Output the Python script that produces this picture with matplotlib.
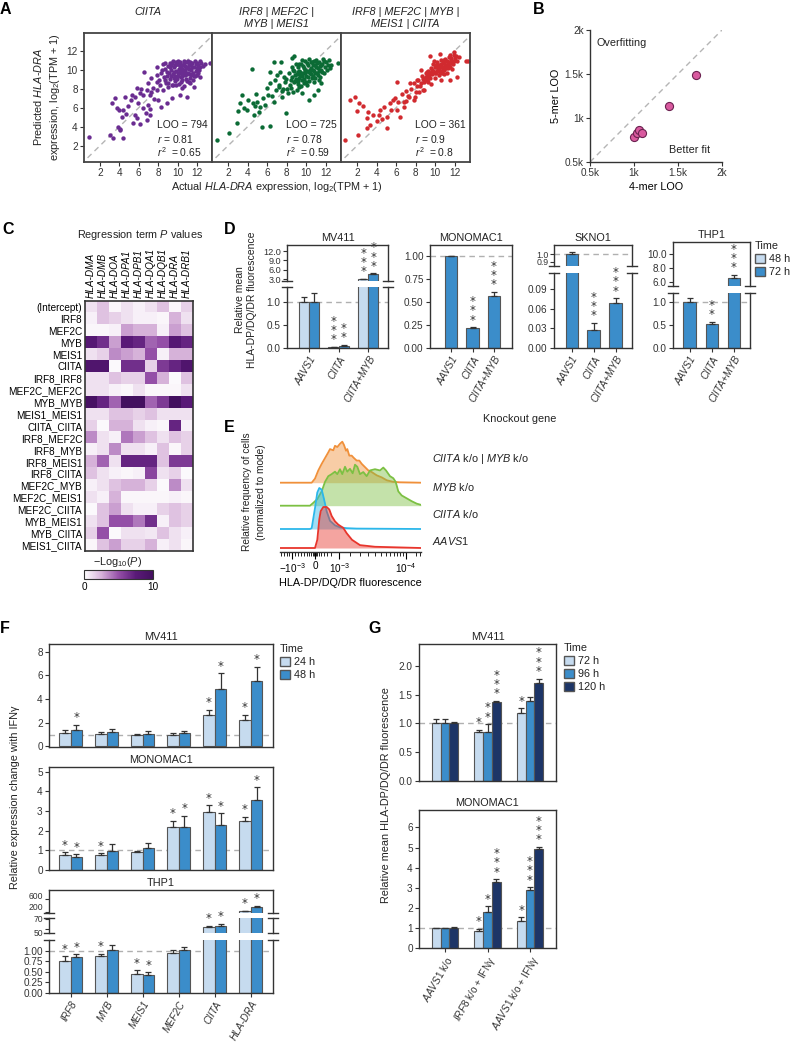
import numpy as np
import matplotlib
matplotlib.use('Agg')
import matplotlib.pyplot as plt
from matplotlib.colors import LinearSegmentedColormap
from matplotlib.lines import Line2D
from matplotlib.patches import Patch
from matplotlib.ticker import FormatStrFormatter

plt.rcParams['font.family'] = ['Liberation Sans', 'DejaVu Sans']
plt.rcParams['mathtext.fontset'] = 'custom'
plt.rcParams['mathtext.rm'] = 'Liberation Sans'
plt.rcParams['mathtext.it'] = 'Liberation Sans:italic'
plt.rcParams['mathtext.bf'] = 'Liberation Sans:bold'
plt.rcParams['font.size'] = 7.5
plt.rcParams['axes.edgecolor'] = '#333333'
plt.rcParams['axes.linewidth'] = 1.0
plt.rcParams['text.color'] = '#222222'

# ---------------- data: panel A (actual vs predicted HLA-DRA) ----------------
a_ciita_pts = [
    (0.83, 2.95), (3.0, 3.1), (3.35, 2.84), (4.4, 2.84), (4.1, 3.8), (3.9, 4.0), (4.1, 3.65),
    (3.5, 7.0), (3.25, 6.5), (3.8, 6.0), (3.95, 5.8), (4.4, 5.75), (4.9, 6.2), (4.7, 5.35),
    (4.3, 5.05), (5.6, 5.2), (5.8, 4.9), (5.4, 4.35), (6.1, 4.3), (6.8, 4.7), (6.7, 5.4),
    (7.2, 5.2), (7.2, 5.9), (6.4, 6.0), (5.15, 6.8), (5.65, 7.15), (5.95, 6.45), (4.55, 7.1),
    (5.25, 7.3), (6.1, 7.5), (6.8, 7.85), (7.15, 7.35), (7.5, 8.1), (7.0, 8.55), (5.8, 8.1),
    (6.5, 9.8), (7.3, 9.1), (7.85, 7.85), (8.0, 6.8), (8.25, 6.1), (8.9, 6.45), (9.4, 7.0),
    (10.3, 7.3), (11.0, 7.15), (10.45, 8.1), (11.3, 8.55), (11.65, 8.2), (12.35, 9.25),
    (12.0, 9.4), (13.3, 10.65), (12.85, 10.55), (12.35, 10.9), (12.0, 10.65), (8.2, 8.4),
    (8.7, 8.9), (8.45, 7.85), (9.05, 8.15), (9.55, 8.4), (7.85, 8.75), (7.3, 7.7), (6.45, 7.35),
    (7.85, 9.45), (8.35, 10.0), (7.85, 10.3), (8.7, 10.65), (6.2, 8.0), (6.9, 6.3), (7.6, 6.9),
    (8.6, 9.2), (8.9, 9.8), (9.0, 10.4), (9.2, 9.0), (9.3, 10.0), (9.4, 10.7), (9.5, 9.5),
    (9.6, 10.3), (9.7, 8.8), (9.8, 9.9), (9.9, 10.6), (10.0, 9.3), (10.1, 10.1), (10.2, 10.8),
    (10.3, 9.6), (10.4, 10.4), (10.5, 8.9), (10.6, 9.9), (10.7, 10.7), (10.8, 9.4), (10.9, 10.2),
    (11.0, 10.8), (11.1, 9.7), (11.2, 10.5), (11.3, 9.1), (11.4, 10.0), (11.5, 10.7), (11.6, 9.6),
    (11.7, 10.3), (11.8, 10.9), (11.9, 9.9), (12.1, 10.5), (12.2, 10.0), (9.1, 9.6), (9.5, 10.9),
    (9.9, 9.0), (10.2, 9.9), (10.6, 10.5), (10.9, 9.0), (11.3, 10.8), (8.7, 10.1), (8.3, 9.6),
    (8.1, 8.9), (8.8, 8.6), (9.4, 8.4), (10.1, 8.5), (10.7, 8.3), (11.2, 8.7), (11.6, 8.9),
    (9.7, 10.5), (10.4, 9.2), (10.0, 10.9), (11.0, 9.5), (8.5, 10.6), (9.2, 10.3), (10.8, 10.0),
    (11.4, 9.4), (12.0, 10.2), (12.4, 10.7), (12.6, 10.4), (9.3, 9.3), (10.5, 10.1), (11.1, 10.3),
    (8.9, 9.3), (9.2, 10.7), (9.6, 9.1), (9.8, 10.8), (10.0, 9.7), (10.3, 10.6), (10.5, 9.3),
    (10.7, 10.9), (10.9, 9.7), (11.1, 10.9), (11.3, 9.5), (11.5, 10.3), (11.7, 9.3), (11.9, 10.6),
    (12.1, 9.7), (12.3, 10.3), (9.0, 8.6), (9.8, 8.4), (10.4, 8.7), (11.0, 8.8), (11.8, 9.3),
    (9.3, 10.5), (9.6, 9.8), (10.2, 10.4), (10.8, 10.4), (11.4, 10.6), (10.6, 9.6), (10.0, 10.6),
    (11.2, 10.1), (9.7, 9.3),
]
a_tf4_pts = [
    (0.82, 2.6), (2.14, 3.3), (2.9, 4.35), (3.0, 5.6), (3.9, 5.75), (4.6, 5.2), (5.3, 6.1),
    (5.6, 7.0), (4.4, 10.1), (5.5, 4.0), (6.25, 4.07), (4.75, 6.2), (4.05, 6.8), (3.2, 6.45),
    (3.45, 7.3), (4.9, 7.45), (5.95, 8.05), (6.3, 8.55), (6.1, 7.3), (6.7, 6.6), (6.9, 7.85),
    (7.5, 7.15), (7.95, 5.4), (7.7, 9.25), (7.0, 9.4), (6.25, 9.8), (6.65, 10.85), (7.45, 10.85),
    (8.55, 10.3), (8.7, 8.75), (9.25, 8.15), (8.4, 8.05), (9.6, 7.5), (10.3, 6.8), (10.8, 7.35),
    (11.15, 7.85), (11.5, 8.55), (12.4, 10.15), (13.25, 10.65), (12.55, 10.5), (8.55, 11.2),
    (8.7, 11.4), (5.0, 6.6), (5.8, 6.3), (6.5, 7.2), (7.2, 8.2), (7.6, 8.0), (8.1, 7.5), (4.5, 6.5),
    (3.6, 6.0), (5.2, 5.5), (6.8, 8.9), (7.3, 9.8), (7.9, 9.0),
    (8.3, 8.4), (8.5, 9.2), (8.7, 9.9), (8.8, 8.8), (9.0, 9.5), (9.1, 10.3), (9.2, 8.5), (9.3, 9.1),
    (9.4, 9.8), (9.5, 10.6), (9.6, 8.9), (9.7, 9.6), (9.8, 10.2), (9.9, 10.9), (10.0, 9.3),
    (10.1, 9.9), (10.2, 10.5), (10.3, 8.8), (10.4, 9.6), (10.5, 10.2), (10.6, 10.8), (10.7, 9.3),
    (10.8, 9.9), (10.9, 10.5), (11.0, 11.0), (11.1, 9.6), (11.2, 10.2), (11.3, 10.8), (11.4, 9.2),
    (11.5, 10.0), (11.6, 10.6), (11.7, 11.1), (11.9, 10.3), (12.0, 10.8), (12.2, 10.5), (8.0, 8.0),
    (7.8, 8.7), (8.6, 7.6), (9.0, 7.9), (9.5, 8.3), (10.1, 8.4), (10.8, 8.7), (11.3, 8.9), (7.5, 7.8),
    (7.2, 8.4), (8.9, 10.6), (9.6, 11.0), (10.3, 11.1), (10.7, 10.0), (11.1, 10.7), (9.9, 9.6),
    (10.5, 9.5), (9.3, 9.9), (10.9, 9.1), (11.8, 9.7), (12.3, 11.0), (8.2, 9.7), (9.8, 8.6),
    (8.4, 8.9), (8.8, 9.4), (9.1, 8.8), (9.3, 10.6), (9.6, 9.3), (9.9, 10.0), (10.0, 8.7),
    (10.2, 9.2), (10.4, 10.0), (10.6, 9.1), (10.7, 10.5), (10.9, 9.6), (11.0, 10.3), (11.2, 9.4),
    (11.4, 10.4), (11.6, 9.8), (11.8, 10.9), (12.1, 10.0), (8.6, 10.0), (9.4, 9.4), (9.8, 9.0),
    (10.3, 9.8), (10.8, 10.9), (11.5, 10.5), (9.2, 9.8), (10.5, 10.8), (11.3, 9.9), (9.7, 10.4),
    (8.9, 9.0), (10.1, 10.7),
]
a_tf5_pts = [
    (0.8, 2.6), (2.1, 3.1), (2.97, 3.83), (3.3, 4.2), (3.65, 5.2), (4.35, 5.75), (5.03, 5.05),
    (5.37, 6.45), (5.9, 7.0), (6.06, 8.75), (4.7, 6.1), (4.0, 4.55), (5.03, 3.83), (5.7, 6.8),
    (6.06, 5.75), (6.4, 5.05), (6.75, 6.1), (7.26, 7.15), (7.77, 6.8), (7.43, 8.55), (8.1, 8.9),
    (8.8, 7.85), (9.15, 8.9), (9.5, 9.6), (10.2, 10.3), (10.9, 11.0), (11.55, 11.55), (11.9, 11.9),
    (12.25, 9.2), (11.5, 8.9), (13.1, 10.95), (13.3, 10.95), (10.5, 11.7), (9.5, 11.4), (8.5, 10.0),
    (3.0, 4.9), (4.2, 5.2), (4.5, 4.8), (5.5, 5.8), (6.2, 6.6), (6.6, 7.4), (7.0, 6.7), (1.3, 6.8),
    (1.8, 7.1), (2.2, 6.5), (2.6, 6.2), (2.0, 5.6), (3.1, 5.5),
    (7.5, 8.0), (7.8, 8.6), (8.0, 7.7), (8.2, 8.9), (8.4, 8.3), (8.6, 9.3), (8.8, 8.7), (9.0, 9.6),
    (9.1, 8.9), (9.3, 9.9), (9.4, 9.2), (9.6, 10.2), (9.7, 9.5), (9.8, 10.6), (9.9, 9.8),
    (10.0, 10.3), (10.1, 9.6), (10.2, 10.8), (10.3, 10.0), (10.4, 10.5), (10.5, 9.8), (10.6, 11.0),
    (10.7, 10.3), (10.8, 10.7), (10.9, 10.0), (11.0, 11.1), (11.1, 10.5), (11.2, 10.9), (11.3, 10.2),
    (11.4, 11.3), (11.5, 10.7), (11.6, 11.0), (11.8, 10.6), (12.0, 11.2), (12.2, 10.9), (9.2, 9.3),
    (9.5, 9.7), (10.0, 9.1), (10.4, 9.4), (10.9, 9.5), (8.7, 7.9), (8.3, 7.6), (7.2, 7.2), (7.0, 7.8),
    (6.8, 6.6), (9.6, 8.5), (11.2, 9.7), (11.7, 10.1), (10.6, 8.9), (7.9, 7.1), (10.7, 9.7),
    (11.9, 11.5), (12.4, 11.3), (9.9, 10.9),
    (8.1, 8.3), (8.5, 8.6), (8.9, 9.1), (9.2, 9.8), (9.5, 9.1), (9.8, 9.9), (10.0, 9.6),
    (10.3, 10.3), (10.5, 10.4), (10.7, 9.9), (10.9, 10.7), (11.1, 10.2), (11.3, 10.8), (11.5, 10.3),
    (11.7, 10.8), (11.9, 10.9), (12.1, 11.4), (9.4, 9.5), (9.7, 10.0), (10.2, 9.9), (10.6, 10.6),
    (11.0, 10.4), (11.4, 10.5), (8.7, 9.0), (9.0, 9.2), (10.8, 10.1), (11.6, 11.2), (10.1, 10.5),
    (9.3, 8.7), (10.4, 10.1),
]
a_titles = ['CIITA', 'IRF8 | MEF2C |\nMYB | MEIS1', 'IRF8 | MEF2C | MYB |\nMEIS1 | CIITA']
a_loo = [794, 725, 361]
a_r = ['0.81', '0.78', '0.9']
a_r2 = ['0.65', '0.59', '0.8']

# ---------------- panel B ----------------
b_4mer = [1000, 1030, 1060, 1090, 1400, 1700]
b_5mer = [780, 830, 860, 830, 1140, 1490]

# ---------------- panel C ----------------
c_genes = ['HLA-DMA', 'HLA-DMB', 'HLA-DOA', 'HLA-DPA1', 'HLA-DPB1', 'HLA-DQA1', 'HLA-DQB1', 'HLA-DRA', 'HLA-DRB1']
c_terms = ['(Intercept)', 'IRF8', 'MEF2C', 'MYB', 'MEIS1', 'CIITA', 'IRF8_IRF8', 'MEF2C_MEF2C',
           'MYB_MYB', 'MEIS1_MEIS1', 'CIITA_CIITA', 'IRF8_MEF2C', 'IRF8_MYB', 'IRF8_MEIS1',
           'IRF8_CIITA', 'MEF2C_MYB', 'MEF2C_MEIS1', 'MEF2C_CIITA', 'MYB_MEIS1', 'MYB_CIITA', 'MEIS1_CIITA']
c_logp = [
    [1.0, 2.0, 0.3, 1.0, 0.5, 1.0, 2.0, 0.3, 1.5],
    [0.5, 2.0, 1.5, 1.0, 0.5, 0.5, 0.3, 2.5, 1.0],
    [0.3, 0.3, 0.5, 3.0, 2.5, 2.5, 0.5, 3.0, 2.0],
    [8.0, 6.5, 3.0, 7.5, 7.0, 4.5, 5.0, 8.0, 7.0],
    [1.0, 1.5, 3.5, 3.0, 2.5, 5.0, 0.5, 2.5, 2.5],
    [8.5, 8.5, 0.2, 6.5, 6.5, 1.5, 6.0, 7.0, 8.5],
    [1.0, 1.0, 2.0, 1.5, 1.5, 5.0, 2.5, 0.2, 2.0],
    [1.0, 1.0, 0.5, 0.3, 1.0, 0.3, 0.3, 0.3, 1.0],
    [9.5, 7.0, 4.5, 10.0, 10.0, 4.5, 6.0, 10.0, 7.5],
    [1.0, 1.0, 2.0, 2.0, 1.5, 2.0, 1.0, 1.0, 1.0],
    [1.5, 0.2, 2.5, 2.5, 1.0, 0.5, 0.3, 7.0, 0.5],
    [3.5, 1.0, 0.5, 4.0, 3.0, 2.0, 1.0, 2.0, 1.5],
    [0.5, 1.0, 3.5, 1.0, 1.0, 0.5, 2.0, 0.3, 1.5],
    [2.5, 4.5, 1.0, 7.0, 7.0, 7.0, 2.0, 6.0, 6.0],
    [2.0, 1.0, 0.5, 0.3, 0.5, 5.5, 1.0, 1.5, 0.2],
    [0.5, 1.0, 2.0, 2.5, 2.5, 1.5, 0.2, 3.5, 1.0],
    [1.0, 0.5, 2.5, 0.3, 0.3, 0.3, 0.3, 0.5, 0.3],
    [0.2, 2.0, 3.0, 1.0, 0.5, 0.5, 1.5, 2.0, 1.5],
    [1.0, 2.0, 5.0, 5.0, 4.0, 6.5, 0.5, 2.0, 1.5],
    [1.5, 5.0, 0.2, 1.0, 1.0, 0.8, 2.0, 1.0, 0.5],
    [0.3, 2.0, 3.0, 1.5, 1.5, 2.5, 0.5, 1.0, 0.3],
]

# ---------------- panel D ----------------
d_genes = ['AAVS1', 'CIITA', 'CIITA+MYB']
d_mv411_48 = [1.0, 0.02, 3.2]
d_mv411_48_err = [0.12, 0.01, 0.06]
d_mv411_48_sig = ['', '***', '***']
d_mv411_72 = [1.0, 0.05, 4.6]
d_mv411_72_err = [0.2, 0.02, 0.3]
d_mv411_72_sig = ['', '**', '***']
d_mono_72 = [1.0, 0.22, 0.56]
d_mono_72_err = [0.005, 0.005, 0.05]
d_mono_72_sig = ['', '***', '***']
d_skno_72 = [1.0, 0.028, 0.068]
d_skno_72_err = [0.02, 0.01, 0.008]
d_skno_72_sig = ['', '***', '***']
d_thp_72 = [1.0, 0.52, 6.55]
d_thp_72_err = [0.08, 0.05, 0.5]
d_thp_72_sig = ['', '**', '***']

# ---------------- panel E (histograms, normalized to mode) ----------------
e_chan_dko = [0, 31.7, 35, 38.3, 41.7, 45, 48.3, 50, 53.3, 55, 57.3, 60, 62.3, 64, 66, 67.3, 69.3,
              71.7, 74, 76.7, 79.3, 81.7, 85, 88.3, 91.7, 96.7, 101.7, 106.7, 113.3, 120, 141]
e_freq_dko = [0, 0, 0.10, 0.30, 0.46, 0.60, 0.74, 0.82, 0.79, 0.90, 0.87, 0.95, 1.0, 0.92, 0.78,
              0.82, 0.66, 0.66, 0.60, 0.54, 0.54, 0.46, 0.38, 0.30, 0.26, 0.18, 0.13, 0.06, 0.02, 0.01, 0]
e_chan_myb = [0, 30, 33.3, 37.3, 41.7, 45, 48.3, 51.7, 55, 57.3, 60, 62.3, 65, 67.3, 70, 72.7, 75,
              77.3, 80, 83.3, 86.7, 90, 95, 100, 103.3, 106, 110, 113.3, 115.7, 118.3, 121.7, 126.7,
              131.7, 136.7, 141]
e_freq_myb = [0, 0, 0.07, 0.16, 0.35, 0.58, 0.72, 0.77, 0.83, 0.77, 0.89, 0.77, 0.95, 0.83, 0.90,
              0.79, 1.0, 0.95, 0.77, 0.82, 0.72, 0.86, 0.89, 0.86, 0.93, 0.86, 0.72, 0.67, 0.58, 0.35,
              0.25, 0.18, 0.11, 0.05, 0.02]
e_chan_ciita = [0, 30, 31.7, 35, 37.3, 39.3, 41.7, 44, 46.7, 50, 55, 60, 66.7, 76.7, 141]
e_freq_ciita = [0, 0, 0.02, 0.51, 0.89, 1.0, 0.96, 0.73, 0.43, 0.2, 0.09, 0.04, 0.02, 0.01, 0]
e_chan_aavs1 = [0, 35, 37.3, 39.3, 40.7, 43.3, 46.7, 49.3, 51.7, 55, 58.3, 63.3, 66.7, 72, 80, 95, 141]
e_freq_aavs1 = [0, 0, 0.2, 0.7, 0.9, 1.0, 1.0, 0.94, 0.78, 0.65, 0.57, 0.49, 0.36, 0.2, 0.07, 0.03, 0]
e_labels = [r'$\mathit{CIITA}$ k/o | $\mathit{MYB}$ k/o', r'$\mathit{MYB}$ k/o',
            r'$\mathit{CIITA}$ k/o', r'$\mathit{AAVS1}$']

# ---------------- panel F ----------------
f_genes = ['IRF8', 'MYB', 'MEIS1', 'MEF2C', 'CIITA', 'HLA-DRA']
f_mv411_24 = [1.12, 1.07, 0.96, 0.96, 2.64, 2.25]
f_mv411_24_err = [0.23, 0.17, 0.11, 0.14, 0.42, 0.42]
f_mv411_24_sig = ['', '', '', '', '*', '*']
f_mv411_48 = [1.40, 1.18, 1.07, 1.12, 4.89, 5.56]
f_mv411_48_err = [0.43, 0.31, 0.19, 0.14, 1.29, 1.18]
f_mv411_48_sig = ['*', '', '', '', '*', '*']
f_mono_24 = [0.78, 0.75, 0.90, 2.20, 2.93, 2.47]
f_mono_24_err = [0.12, 0.10, 0.08, 0.29, 0.36, 0.24]
f_mono_24_sig = ['*', '*', '', '*', '*', '*']
f_mono_48 = [0.66, 0.98, 1.14, 2.20, 2.31, 3.54]
f_mono_48_err = [0.14, 0.34, 0.22, 0.55, 0.57, 0.66]
f_mono_48_sig = ['*', '', '', '*', '*', '*']
f_thp_24 = [0.76, 0.87, 0.46, 0.94, 55, 230]
f_thp_24_err = [0.11, 0.06, 0.08, 0.08, 2, 8]
f_thp_24_sig = ['*', '*', '*', '', '*', '*']
f_thp_48 = [0.86, 1.02, 0.42, 1.02, 56, 370]
f_thp_48_err = [0.06, 0.11, 0.07, 0.08, 5, 15]
f_thp_48_sig = ['*', '', '*', '', '*', '*']

# ---------------- panel G ----------------
g_groups = [r'$\mathit{AAVS1}$ k/o', r'$\mathit{IRF8}$ k/o + IFNγ', r'$\mathit{AAVS1}$ k/o + IFNγ']
g_mv411_72 = [1.0, 0.855, 1.18]
g_mv411_72_err = [0.07, 0.03, 0.08]
g_mv411_72_sig = ['', '*', '*']
g_mv411_96 = [1.0, 0.855, 1.39]
g_mv411_96_err = [0.07, 0.13, 0.07]
g_mv411_96_sig = ['', '**', '']
g_mv411_120 = [1.0, 1.37, 1.70]
g_mv411_120_err = [0.03, 0.02, 0.08]
g_mv411_120_sig = ['', '***', '***']
g_mono_72 = [1.0, 0.85, 1.35]
g_mono_72_err = [0.01, 0.12, 0.17]
g_mono_72_sig = ['', '*', '*']
g_mono_96 = [1.0, 1.78, 2.88]
g_mono_96_err = [0.01, 0.30, 0.14]
g_mono_96_sig = ['', '*', '***']
g_mono_120 = [1.02, 3.30, 4.92]
g_mono_120_err = [0.02, 0.12, 0.10]
g_mono_120_sig = ['', '***', '***']

LIGHT, MID, DARK = '#c6dbef', '#3b8dca', '#1d3567'
EDGE = '#555555'

W, H = 793, 1043
fig = plt.figure(figsize=(W / 100, H / 100), dpi=100)


def box(x0, y0, x1, y1):
    return fig.add_axes([x0 / W, 1 - y1 / H, (x1 - x0) / W, (y1 - y0) / H])


def ftext(x, y, s, **kw):
    fig.text(x / W, 1 - y / H, s, **kw)


def ticks(ax):
    ax.tick_params(direction='out', length=3, width=0.8, colors='#333333', labelsize=7.2, pad=1.5)


def bars(axs, xpos, vals, errs, color, width):
    for ax in axs:
        ax.bar(xpos, vals, width, color=color, edgecolor=EDGE, linewidth=0.8, zorder=2)
        ax.errorbar(xpos, vals, yerr=[np.zeros(len(vals)), errs], fmt='none', ecolor='#333333',
                    elinewidth=0.9, capsize=2.2, capthick=0.9, zorder=3)


def stars(axs, xpos, vals, errs, marks, stack=True):
    # significance marks; stacked vertically (one star per line) like the original
    for x, v, e, m in zip(xpos, vals, errs, marks):
        if not m:
            continue
        t = v + e
        s = '\n'.join(m) if stack else m
        for ax in axs:
            lo, hi = ax.get_ylim()
            if lo <= t <= hi:
                ax.annotate(s, (x, t), xytext=(0, 0.5), textcoords='offset points', ha='center',
                            va='bottom', fontsize=8.5, family='DejaVu Sans', linespacing=0.62,
                            annotation_clip=False, zorder=5, color='#333333')
                break


def broken(axs):
    for i, ax in enumerate(axs):
        if i > 0:
            ax.spines['top'].set_visible(False)
        if i < len(axs) - 1:
            ax.spines['bottom'].set_visible(False)
            ax.tick_params(axis='x', bottom=False, labelbottom=False)
    for i in range(len(axs) - 1):
        for ax, top in ((axs[i], False), (axs[i + 1], True)):
            bb = ax.get_position()
            y = bb.y1 if top else bb.y0
            for xx in (bb.x0, bb.x1):
                fig.add_artist(Line2D([xx - 5 / W, xx + 5 / W], [y, y], color='#333333', lw=1.0))


def dash1(ax):
    ax.axhline(1, ls=(0, (4, 3)), color='#b0b0b0', lw=1.0, zorder=1)


def letter(x, y, s):
    ftext(x, y, s, fontsize=11.5, fontweight='bold', va='top', ha='left', color='black')


# ================= A =================
a_boxes = [(84, 33, 212, 162), (212, 33, 341, 162), (341, 33, 470, 162)]
a_cols = ['#6a2c91', '#0b6b35', '#d12a2f']
for i, (pts, bx) in enumerate(zip([a_ciita_pts, a_tf4_pts, a_tf5_pts], a_boxes)):
    ax = box(*bx)
    p = np.array(pts)
    ax.plot([0, 14], [0, 14], ls=(0, (4, 3)), color='#b5b5b5', lw=1.0, zorder=1)
    ax.scatter(p[:, 0], p[:, 1], s=10, color=a_cols[i], lw=0, zorder=2)
    ax.set_xlim(0.35, 13.55)
    ax.set_ylim(0.28, 13.86)
    ax.set_xticks([2, 4, 6, 8, 10, 12])
    ax.set_yticks([2, 4, 6, 8, 10, 12])
    for sp in ax.spines.values():
        sp.set_linewidth(1.3)
        sp.set_color('#444444')
    ticks(ax)
    if i > 0:
        ax.tick_params(axis='y', left=False, labelleft=False)
    ax.text(0.57, 0.26, f'LOO = {a_loo[i]}', transform=ax.transAxes, fontsize=7.4)
    ax.text(0.57, 0.15, f'$r$ = {a_r[i]}', transform=ax.transAxes, fontsize=7.4)
    ax.text(0.57, 0.04, f'$r^2$  = {a_r2[i]}', transform=ax.transAxes, fontsize=7.4)
    ftext((bx[0] + bx[2]) / 2, 7, a_titles[i], ha='center', va='top', style='italic',
          fontsize=7.8, linespacing=1.3)
ftext(277, 187, r'Actual $\mathit{HLA}$-$\mathit{DRA}$ expression, log$_2$(TPM + 1)', ha='center',
      va='center', fontsize=7.8)
ftext(47, 97, 'Predicted $\\mathit{HLA}$-$\\mathit{DRA}$\nexpression, log$_2$(TPM + 1)', ha='center',
      va='center', rotation=90, fontsize=7.8, linespacing=1.3)
letter(0, 2, 'A')

# ================= B =================
ax = box(590, 30, 722, 162)
ax.plot([500, 2000], [500, 2000], ls=(0, (4, 3)), color='#b5b5b5', lw=1.0, zorder=1)
ax.scatter(b_4mer, b_5mer, s=34, color='#d95a9f', edgecolor='#6b2250', lw=0.8, zorder=3)
ax.set_xlim(500, 2000)
ax.set_ylim(500, 2000)
ax.set_xticks([500, 1000, 1500, 2000])
ax.set_xticklabels(['0.5k', '1k', '1.5k', '2k'])
ax.set_yticks([500, 1000, 1500, 2000])
ax.set_yticklabels(['0.5k', '1k', '1.5k', '2k'])
ax.spines['top'].set_visible(False)
ax.spines['right'].set_visible(False)
ticks(ax)
ax.text(0.05, 0.88, 'Overfitting', transform=ax.transAxes, fontsize=7.8)
ax.text(0.6, 0.07, 'Better fit', transform=ax.transAxes, fontsize=7.8)
ax.set_xlabel('4-mer LOO', fontsize=7.8, labelpad=3)
ax.set_ylabel('5-mer LOO', fontsize=7.8, labelpad=3)
letter(533, 2, 'B')

# ================= C =================
cmap = LinearSegmentedColormap.from_list('pv', ['#ffffff', '#d7b3da', '#9550a8', '#5a1a78', '#43105f'])
ax = box(85, 301, 193, 551)
im = ax.imshow(np.array(c_logp), cmap=cmap, vmin=0, vmax=10, aspect='auto', interpolation='nearest')
ax.set_yticks(range(len(c_terms)))
ax.set_yticklabels(c_terms, fontsize=7.2)
ax.set_xticks(range(len(c_genes)))
ax.set_xticklabels(c_genes, rotation=90, style='italic', fontsize=7.2)
ax.xaxis.tick_top()
ax.tick_params(length=0, pad=2)
for sp in ax.spines.values():
    sp.set_linewidth(1.2)
ftext(140, 235, r'Regression term $P$ values', ha='center', va='center', fontsize=7.8)
cax = box(84, 570, 153, 579)
cb = fig.colorbar(im, cax=cax, orientation='horizontal', ticks=[0, 10])
cb.outline.set_linewidth(0.8)
cax.tick_params(length=0, labelsize=7.2, pad=2)
ftext(118, 562, r'$-$Log$_{10}$($P$)', ha='center', va='center', fontsize=7.8)
letter(2, 222, 'C')

# ================= D =================
def dpanel(bounds, xlim, title):
    axs = []
    for (y0, y1, yl) in bounds['segs']:
        a = box(bounds['x0'], y0, bounds['x1'], y1)
        a.set_ylim(*yl)
        a.set_xlim(*xlim)
        ticks(a)
        axs.append(a)
    axs[0].set_title(title, fontsize=7.8, pad=3)
    if len(axs) > 1:
        broken(axs)
    return axs


xd = np.arange(3)
# MV411
mv = dpanel({'x0': 287, 'x1': 388, 'segs': [(245, 281, (2.5, 13.9)), (287, 348, (0, 1.33))]},
            (-0.74, 2.67), 'MV411')
bars(mv, xd - 0.17, d_mv411_48, d_mv411_48_err, LIGHT, 0.34)
bars(mv, xd + 0.17, d_mv411_72, d_mv411_72_err, MID, 0.34)
mv[0].set_yticks([3, 6, 9, 12])
mv[0].tick_params(axis='y', labelsize=6.6, pad=1)
mv[1].set_yticks([0, 0.5, 1.0])
dash1(mv[1])
stars(mv, xd - 0.17, d_mv411_48, d_mv411_48_err, d_mv411_48_sig)
stars(mv, xd + 0.17, d_mv411_72, d_mv411_72_err, d_mv411_72_sig)
# MONOMAC1
mo = dpanel({'x0': 430, 'x1': 512, 'segs': [(245, 348, (0, 1.12))]}, (-0.98, 2.84), 'MONOMAC1')
bars(mo, xd, d_mono_72, d_mono_72_err, MID, 0.57)
mo[0].set_yticks([0, 0.25, 0.5, 0.75, 1.0])
mo[0].yaxis.set_major_formatter(FormatStrFormatter('%.2f'))
dash1(mo[0])
stars(mo, xd, d_mono_72, d_mono_72_err, d_mono_72_sig)
# SKNO1
sk = dpanel({'x0': 554, 'x1': 632, 'segs': [(245, 266, (0.844, 1.117)), (273, 348, (0, 0.1145))]},
            (-0.81, 2.75), 'SKNO1')
bars(sk, xd, d_skno_72, d_skno_72_err, MID, 0.57)
sk[0].set_yticks([0.9, 1.0])
sk[0].tick_params(axis='y', labelsize=6.3, pad=1)
sk[1].set_yticks([0, 0.03, 0.06, 0.09])
sk[1].yaxis.set_major_formatter(FormatStrFormatter('%.2f'))
dash1(sk[0])
stars(sk, xd, d_skno_72, d_skno_72_err, d_skno_72_sig)
# THP1
th = dpanel({'x0': 673, 'x1': 750, 'segs': [(242, 286, (5.48, 11.65)), (293, 348, (0, 1.19))]},
            (-0.76, 2.73), 'THP1')
bars(th, xd, d_thp_72, d_thp_72_err, MID, 0.57)
th[0].set_yticks([6, 8, 10])
th[1].set_yticks([0, 0.5, 1.0])
dash1(th[1])
stars(th, xd, d_thp_72, d_thp_72_err, d_thp_72_sig)
for axs in (mv, sk, th):
    axs[0].yaxis.set_major_formatter(FormatStrFormatter('%.1f'))
for axs in (mv, mo, sk, th):
    axs[-1].set_xticks(xd)
    axs[-1].set_xticklabels(d_genes, rotation=60, ha='right', rotation_mode='anchor', style='italic',
                            fontsize=7.2)
mv[1].yaxis.set_major_formatter(FormatStrFormatter('%.1f'))
th[1].yaxis.set_major_formatter(FormatStrFormatter('%.1f'))
fig.legend(handles=[Patch(facecolor=LIGHT, edgecolor=EDGE), Patch(facecolor=MID, edgecolor=EDGE)],
           labels=['48 h', '72 h'], title='Time', loc='upper left', bbox_to_anchor=(755 / W, 1 - 241 / H),
           frameon=False, fontsize=7.8, title_fontsize=7.8, handlelength=0.9, handleheight=0.9,
           handletextpad=0.4, labelspacing=0.25, borderaxespad=0, borderpad=0, alignment='left')
ftext(246, 300, 'Relative mean\nHLA-DP/DQ/DR fluorescence', rotation=90, ha='center', va='center',
      fontsize=7.5, linespacing=1.3)
ftext(520, 419, 'Knockout gene', ha='center', va='center', fontsize=7.8)
letter(224, 222, 'D')

# ================= E =================
ax = box(280, 438, 421, 552)
e_sets = [(e_chan_dko, e_freq_dko, '#f0903a', 69.3), (e_chan_myb, e_freq_myb, '#7cc043', 46.3),
          (e_chan_ciita, e_freq_ciita, '#2cb7ea', 23.0), (e_chan_aavs1, e_freq_aavs1, '#e8352c', 4.0)]
for k, (ch, fr, col, base) in enumerate(e_sets):
    y = base + 41 * np.array(fr)
    ax.fill_between(ch, base, y, color=col, alpha=0.45, lw=0, zorder=2 + k)
    ax.plot(ch, y, color=col, lw=1.3, zorder=2 + k)
ax.set_xlim(0, 141)
ax.set_ylim(0, 114)
for s in ('left', 'right', 'top'):
    ax.spines[s].set_visible(False)
ax.set_yticks([])
ax.set_xticks([12, 35, 59, 126])
ax.set_xticklabels([r'$-10^{-3}$', '0', r'$10^{-3}$', r'$10^{-4}$'])
ax.set_xticks([1, 4, 7, 9, 15, 18, 21, 24, 27, 29, 31, 33, 34, 36, 37, 39, 41, 44, 47, 51, 70, 80,
               88, 95, 101, 106, 110, 114, 117, 120, 123, 136, 140], minor=True)
ax.tick_params(axis='x', which='major', length=5, width=0.8, labelsize=7.2, pad=1.5)
ax.tick_params(axis='x', which='minor', length=3, width=0.6)
ax.set_xlabel('HLA-DP/DQ/DR fluorescence', fontsize=7.8, labelpad=2)
for lab, yy in zip(e_labels, [459, 487, 514, 541]):
    ftext(432, yy, lab, ha='left', va='center', fontsize=7.8)
ftext(254, 492, 'Relative frequency of cells\n(normalized to mode)', rotation=90, ha='center',
      va='center', fontsize=7.3, linespacing=1.45)
letter(224, 420, 'E')

# ================= F =================
xf = np.arange(6)
fw = 0.325
fm = [box(49, 644, 273, 747)]
fm[0].set_ylim(-0.05, 8.65)
fm[0].set_yticks([0, 2, 4, 6, 8])
fm[0].set_title('MV411', fontsize=7.8, pad=3)
fo = [box(49, 767, 273, 870)]
fo[0].set_ylim(0, 5.24)
fo[0].set_yticks([0, 1, 2, 3, 4, 5])
fo[0].set_title('MONOMAC1', fontsize=7.8, pad=3)
ft = [box(49, 890, 273, 913), box(49, 918, 273, 933), box(49, 940, 273, 993)]
ft[0].set_ylim(179, 871)
ft[0].set_yticks([200, 600])
ft[1].set_ylim(42.5, 71.9)
ft[1].set_yticks([50, 70])
ft[2].set_ylim(0, 1.26)
ft[2].set_yticks([0, 0.25, 0.5, 0.75, 1.0])
ft[2].yaxis.set_major_formatter(FormatStrFormatter('%.2f'))
ft[0].set_title('THP1', fontsize=7.8, pad=3)
for axs, v24, e24, s24, v48, e48, s48 in (
        (fm, f_mv411_24, f_mv411_24_err, f_mv411_24_sig, f_mv411_48, f_mv411_48_err, f_mv411_48_sig),
        (fo, f_mono_24, f_mono_24_err, f_mono_24_sig, f_mono_48, f_mono_48_err, f_mono_48_sig),
        (ft, f_thp_24, f_thp_24_err, f_thp_24_sig, f_thp_48, f_thp_48_err, f_thp_48_sig)):
    for a in axs:
        a.set_xlim(-0.6, 5.62)
        ticks(a)
    bars(axs, xf - fw / 2, v24, e24, LIGHT, fw)
    bars(axs, xf + fw / 2, v48, e48, MID, fw)
    dash1(axs[-1])
    stars(axs, xf - fw / 2, v24, e24, s24, stack=False)
    stars(axs, xf + fw / 2, v48, e48, s48, stack=False)
    axs[-1].set_xticks(xf)
    axs[-1].set_xticklabels([])
    axs[-1].tick_params(axis='x', bottom=False)
broken(ft)
# the two short segments carry close tick labels: shrink them and nudge apart
ft[0].set_yticklabels(['200', '600'], fontsize=6.2)
ft[1].set_yticklabels(['50', '70'], fontsize=6.2)
ft[0].tick_params(axis='y', pad=1)
ft[1].tick_params(axis='y', pad=1)
ft[0].get_yticklabels()[0].set_va('bottom')
ft[0].get_yticklabels()[1].set_va('baseline')
ft[1].get_yticklabels()[0].set_va('top')
ft[-1].tick_params(axis='x', bottom=True)
ft[-1].set_xticklabels(f_genes, rotation=60, ha='right', rotation_mode='anchor', style='italic',
                       fontsize=7.2)
fig.legend(handles=[Patch(facecolor=LIGHT, edgecolor=EDGE), Patch(facecolor=MID, edgecolor=EDGE)],
           labels=['24 h', '48 h'], title='Time', loc='upper left', bbox_to_anchor=(280 / W, 1 - 644 / H),
           frameon=False, fontsize=7.8, title_fontsize=7.8, handlelength=0.9, handleheight=0.9,
           handletextpad=0.4, labelspacing=0.25, borderaxespad=0, borderpad=0, alignment='left')
ftext(15, 797, 'Relative expression change with IFNγ', rotation=90, ha='center', va='center',
      fontsize=7.8)
letter(0, 621, 'F')

# ================= G =================
xg = np.arange(3)
gw = 0.205
gm = box(419, 644, 556, 781)
gm.set_ylim(0, 2.38)
gm.set_yticks([0, 0.5, 1.0, 1.5, 2.0])
gm.yaxis.set_major_formatter(FormatStrFormatter('%.1f'))
gm.set_title('MV411', fontsize=7.8, pad=3)
go = box(419, 810, 556, 948)
go.set_ylim(0, 6.87)
go.set_yticks([0, 1, 2, 3, 4, 5, 6])
go.set_title('MONOMAC1', fontsize=7.8, pad=3)
for a, sets in ((gm, [(g_mv411_72, g_mv411_72_err, g_mv411_72_sig), (g_mv411_96, g_mv411_96_err, g_mv411_96_sig),
                      (g_mv411_120, g_mv411_120_err, g_mv411_120_sig)]),
                (go, [(g_mono_72, g_mono_72_err, g_mono_72_sig), (g_mono_96, g_mono_96_err, g_mono_96_sig),
                      (g_mono_120, g_mono_120_err, g_mono_120_sig)])):
    a.set_xlim(-0.61, 2.61)
    ticks(a)
    dash1(a)
    for off, col, (v, e, s) in zip((-gw, 0, gw), (LIGHT, MID, DARK), sets):
        bars([a], xg + off, v, e, col, gw)
        stars([a], xg + off, v, e, s)
    a.set_xticks(xg)
gm.set_xticklabels([])
gm.tick_params(axis='x', bottom=False)
go.set_xticklabels(g_groups, rotation=60, ha='right', rotation_mode='anchor', fontsize=7.2)
fig.legend(handles=[Patch(facecolor=c, edgecolor=EDGE) for c in (LIGHT, MID, DARK)],
           labels=['72 h', '96 h', '120 h'], title='Time', loc='upper left',
           bbox_to_anchor=(564 / W, 1 - 643 / H), frameon=False, fontsize=7.8, title_fontsize=7.8,
           handlelength=0.9, handleheight=0.9, handletextpad=0.4, labelspacing=0.25, borderaxespad=0,
           borderpad=0, alignment='left')
ftext(386, 795, 'Relative mean HLA-DP/DQ/DR fluorescence', rotation=90, ha='center', va='center',
      fontsize=7.8)
letter(368, 621, 'G')

fig.savefig('out.png', dpi=100)
